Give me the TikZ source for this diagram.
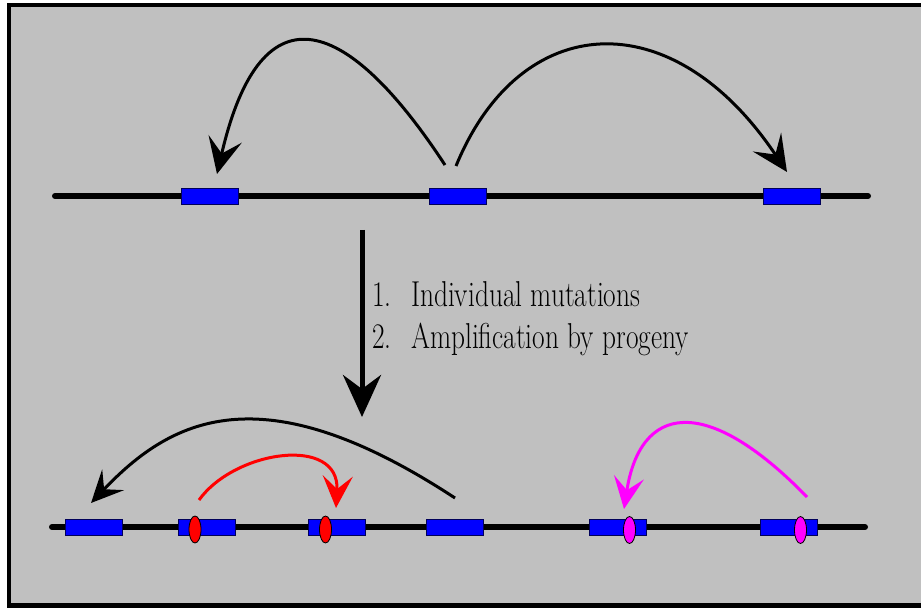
\documentclass[tikz,border=0pt]{standalone}
\usepackage{graphicx}
\usetikzlibrary{arrows.meta,shapes.geometric}
\definecolor{bggray}{RGB}{192,192,192}
\definecolor{boxblue}{RGB}{0,0,255}
\definecolor{boxedge}{RGB}{0,0,90}
\definecolor{mag}{RGB}{255,0,255}
\tikzset{
  genebox/.style={rectangle, draw=boxedge, line width=0.8pt, fill=boxblue, minimum width=57pt, minimum height=16pt, inner sep=0pt},
  mutmark/.style={ellipse, draw=black, line width=0.8pt, minimum width=12pt, minimum height=27pt, inner sep=0pt},
  backbone/.style={line width=6pt, line cap=round},
  jump/.style={line width=3pt, -{Stealth[length=36pt,width=34pt,inset=15pt]}},
  smalljump/.style={line width=3pt, -{Stealth[length=32pt,width=30pt,inset=13pt]}},
  listtxt/.style={anchor=base west, inner sep=0pt, font=\fontsize{36}{42}\selectfont}
}
\begin{document}
\begin{tikzpicture}[x=1pt,y=-1pt]
\useasboundingbox (0,0) rectangle (921,609);
\clip (0,0) rectangle (921,609);
\fill[white] (0,0) rectangle (921,609);
\draw[line width=4.5pt, fill=bggray] (9.2,5.2) rectangle (940,605.5);

% top chromosome
\coordinate (tl) at (55,196);
\coordinate (tr) at (868,196);
\draw[backbone] (tl) -- (tr);
\node[genebox] (t1) at (209.5,196) {};
\node[genebox] (t2) at (457.5,196) {};
\node[genebox] (t3) at (791.5,196) {};

\coordinate (s1) at (445,165);
\coordinate (e1) at (217,174);
\coordinate (s2) at (456,166);
\coordinate (e2) at (787,172);
\draw[jump] (s1) .. controls (350,20) and (262,-20) .. (e1);
\draw[jump] (s2) .. controls (520,10) and (672,0) .. (e2);

% vertical arrow
\coordinate (va) at (362,230);
\coordinate (vb) at (362,417);
\draw[line width=5pt, -{Stealth[length=42pt,width=38pt,inset=14pt]}] (va) -- (vb);

% text
\node[listtxt] (n1) at (372,307) {\scalebox{0.76}[1]{1.}};
\node[listtxt] (l1) at (411,307) {\scalebox{0.76}[1]{Individual mutations}};
\node[listtxt] (n2) at (372,349) {\scalebox{0.76}[1]{2.}};
\node[listtxt] (l2) at (411,349) {\scalebox{0.76}[1]{Amplification by progeny}};

% bottom chromosome
\coordinate (bl) at (52,527);
\coordinate (br) at (865,527);
\draw[backbone] (bl) -- (br);
\node[genebox] (b1) at (94,527) {};
\node[genebox] (b2) at (206.5,527) {};
\node[genebox] (b3) at (336.5,527) {};
\node[genebox] (b4) at (454.5,527) {};
\node[genebox] (b5) at (617.5,527) {};
\node[genebox] (b6) at (789,527) {};
\node[mutmark, fill=red] (m1) at (195,529.5) {};
\node[mutmark, fill=red] (m2) at (325.5,529.5) {};
\node[mutmark, fill=mag] (m3) at (629.5,530) {};
\node[mutmark, fill=mag] (m4) at (800.5,530) {};

\coordinate (s3) at (455,498);
\coordinate (e3) at (91,503);
\draw[smalljump] (s3) .. controls (260,370) and (170,420) .. (e3);
\coordinate (s4) at (199,500);
\coordinate (e4) at (336,508);
\draw[smalljump, red] (s4) .. controls (235,450) and (340,435) .. (e4);
\coordinate (s5) at (807,497);
\coordinate (e5) at (624,509);
\draw[smalljump, mag] (s5) .. controls (705,392) and (640,405) .. (e5);
\end{tikzpicture}
\end{document}
